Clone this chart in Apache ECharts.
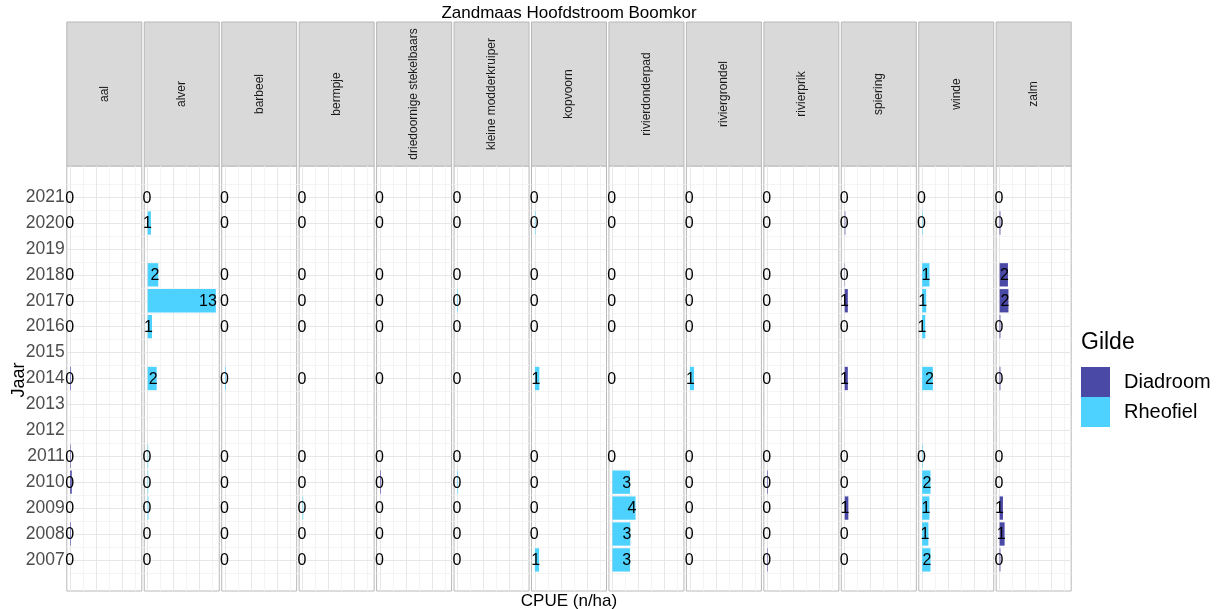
<!DOCTYPE html>
<html>
<head>
<meta charset="utf-8">
<script src="https://cdn.jsdelivr.net/npm/echarts@6/dist/echarts.min.js"></script>
<style>html,body{margin:0;padding:0;background:#fff}#c{width:1224px;height:609px}</style>
</head>
<body>
<div id="c"></div>
<script>
// ---- data ----
const chartTitle = 'Zandmaas Hoofdstroom Boomkor';
const yearTicks = [2007,2008,2009,2010,2011,2012,2013,2014,2015,2016,2017,2018,2019,2020,2021];
const years = [2021, 2020, 2018, 2017, 2016, 2014, 2011, 2010, 2009, 2008, 2007];
const species = ['aal','alver','barbeel','bermpje','driedoornige stekelbaars','kleine modderkruiper','kopvoorn','rivierdonderpad','riviergrondel','rivierprik','spiering','winde','zalm'];
const guilds = ['Diadroom','Rheofiel','Rheofiel','Rheofiel','Diadroom','Rheofiel','Rheofiel','Rheofiel','Rheofiel','Diadroom','Diadroom','Rheofiel','Diadroom'];
const guildNames = ['Diadroom','Rheofiel'];
// CPUE per species, in the order of `years`
const aal             = [0, 0,    0,    0,    0,    0.12, 0.1,  0.3,  0,    0.12, 0];
const alver           = [0, 0.63, 2.04, 13.1, 0.83, 1.73, 0.1,  0.1,  0.15, 0,    0];
const barbeel         = [0, 0,    0,    0,    0,    0.12, 0,    0,    0,    0,    0];
const bermpje         = [0, 0,    0,    0,    0,    0,    0,    0,    0.12, 0,    0];
const driedoornige    = [0, 0,    0,    0,    0,    0,    0,    0.12, 0,    0,    0];
const kleineModder    = [0, 0,    0,    0.1,  0,    0,    0,    0.12, 0,    0,    0];
const kopvoorn        = [0, 0.1,  0,    0,    0,    0.85, 0,    0,    0,    0,    0.8];
const rivierdonderpad = [0, 0,    0,    0,    0,    0,    0,    3.4,  4.45, 3.45, 3.4];
const riviergrondel   = [0, 0,    0,    0,    0,    0.8,  0,    0,    0,    0,    0];
const rivierprik      = [0, 0,    0,    0,    0,    0,    0,    0.12, 0,    0,    0.1];
const spiering        = [0, 0.12, 0.06, 0.6,  0,    0.6,  0,    0,    0.7,  0,    0];
const winde           = [0, 0.1,  1.4,  0.77, 0.6,  2.05, 0.1,  1.6,  1.4,  1.2,  1.6];
const zalm            = [0, 0.15, 1.6,  1.7,  0.15, 0.15, 0,    0,    0.64, 0.96, 0.15];
const seriesValues = [aal, alver, barbeel, bermpje, driedoornige, kleineModder, kopvoorn, rivierdonderpad, riviergrondel, rivierprik, spiering, winde, zalm];

// ---- styles / layout ----
const FONT = 'Liberation Sans, Arial, sans-serif';
const guildColors = { Diadroom: '#4B49A6', Rheofiel: '#4DD2FF' };
const panelLeft0 = 66.8, panelStep = 77.45, panelW = 75;
const stripTop = 22, panelTop = 166, panelBottom = 591;
const maxVal = Math.max(...seriesValues.map(a => Math.max(...a)));
const xMin = -0.05 * maxVal, xMax = 1.05 * maxVal;
const yMin = 2005.8, yMax = 2022.2;
const xMajor = [0, 5, 10], xMinor = [2.5, 7.5, 12.5];
const yMinor = [2006.5].concat(yearTicks.map(y => y + 0.5));
const majorColor = '#e7e7e7', minorColor = '#f4f4f4';
const labelAnchorMin = 0.55;

const gridLines = []
  .concat(yMinor.map(v => ({ yAxis: v, lineStyle: { color: minorColor, width: 1, type: 'solid' } })))
  .concat(xMinor.map(v => ({ xAxis: v, lineStyle: { color: minorColor, width: 1, type: 'solid' } })))
  .concat(yearTicks.map(v => ({ yAxis: v, lineStyle: { color: majorColor, width: 1, type: 'solid' } })))
  .concat(xMajor.map(v => ({ xAxis: v, lineStyle: { color: majorColor, width: 1, type: 'solid' } })));

const grids = [], xAxes = [], yAxes = [], series = [], graphics = [];
species.forEach((sp, i) => {
  const left = panelLeft0 + i * panelStep;
  grids.push({ left: left, top: panelTop, width: panelW, height: panelBottom - panelTop,
    show: true, backgroundColor: '#fff', borderColor: '#b8b8b8', borderWidth: 1 });
  xAxes.push({ type: 'value', gridIndex: i, min: xMin, max: xMax,
    axisLine: { show: false }, axisTick: { show: false }, axisLabel: { show: false }, splitLine: { show: false } });
  yAxes.push({ type: 'value', gridIndex: i, min: yMin, max: yMax, position: 'left',
    axisLine: { show: false },
    axisTick: { show: false, customValues: yearTicks },
    axisLabel: { show: i === 0, customValues: yearTicks, fontSize: 17.5, color: '#4d4d4d', margin: 2, fontFamily: FONT,
      formatter: v => String(v) },
    splitLine: { show: false } });

  const g = guilds[i];
  const data = years.map((y, k) => [seriesValues[i][k], y]);
  series.push({
    type: 'custom', name: g, xAxisIndex: i, yAxisIndex: i, z: 3,
    itemStyle: { color: guildColors[g] }, clip: false,
    data: data,
    markLine: { silent: true, symbol: ['none', 'none'], label: { show: false }, z: 1, animation: false,
      emphasis: { disabled: true }, data: gridLines },
    renderItem: function (params, api) {
      const v = api.value(0), y = api.value(1);
      const p0 = api.coord([0, y + 0.45]);
      const p1 = api.coord([v, y - 0.45]);
      const pl = api.coord([Math.max(v, labelAnchorMin), y]);
      return { type: 'group', children: [
        { type: 'rect', shape: { x: p0[0], y: p0[1], width: p1[0] - p0[0], height: p1[1] - p0[1] },
          style: { fill: guildColors[g] } },
        { type: 'text', style: { text: String(Math.round(v)), x: pl[0] + 1, y: pl[1] + 1,
          align: 'right', verticalAlign: 'middle', fontSize: 16, fill: '#000', fontFamily: FONT } }
      ] };
    }
  });

  // facet strip
  graphics.push({ type: 'rect', shape: { x: left, y: stripTop, width: panelW, height: panelTop - stripTop },
    style: { fill: '#d9d9d9', stroke: '#b8b8b8', lineWidth: 1 }, z: 1 });
  graphics.push({ type: 'text', x: left + panelW / 2, y: (stripTop + panelTop) / 2, rotation: Math.PI / 2,
    style: { text: sp, align: 'center', verticalAlign: 'middle', fontSize: 12, fill: '#1a1a1a', fontFamily: FONT }, z: 2 });
});

const centerX = panelLeft0 + (panelStep * (species.length - 1) + panelW) / 2;
graphics.push({ type: 'text', x: centerX, y: 13, style: { text: chartTitle, align: 'center', verticalAlign: 'middle',
  fontSize: 17, fill: '#000', fontFamily: FONT } });
graphics.push({ type: 'text', x: centerX, y: 601, style: { text: 'CPUE (n/ha)', align: 'center', verticalAlign: 'middle',
  fontSize: 17, fill: '#000', fontFamily: FONT } });
graphics.push({ type: 'text', x: 19, y: 380, rotation: Math.PI / 2,
  style: { text: 'Jaar', align: 'center', verticalAlign: 'middle', fontSize: 18, fill: '#000', fontFamily: FONT } });
graphics.push({ type: 'text', x: 1081, y: 343, style: { text: 'Gilde', align: 'left', verticalAlign: 'middle',
  fontSize: 23, fill: '#000', fontFamily: FONT } });

const chart = echarts.init(document.getElementById('c'), null, { renderer: 'canvas' });
chart.setOption({
  animation: false,
  backgroundColor: '#fff',
  grid: grids, xAxis: xAxes, yAxis: yAxes, series: series,
  legend: { data: guildNames, orient: 'vertical', left: 1076, top: 362, itemWidth: 29, itemHeight: 30, itemGap: 0,
    icon: 'rect', selectedMode: false,
    textStyle: { fontSize: 20, color: '#000', fontFamily: FONT, padding: [0, 0, 0, 9] } },
  graphic: graphics
});
</script>
</body>
</html>
